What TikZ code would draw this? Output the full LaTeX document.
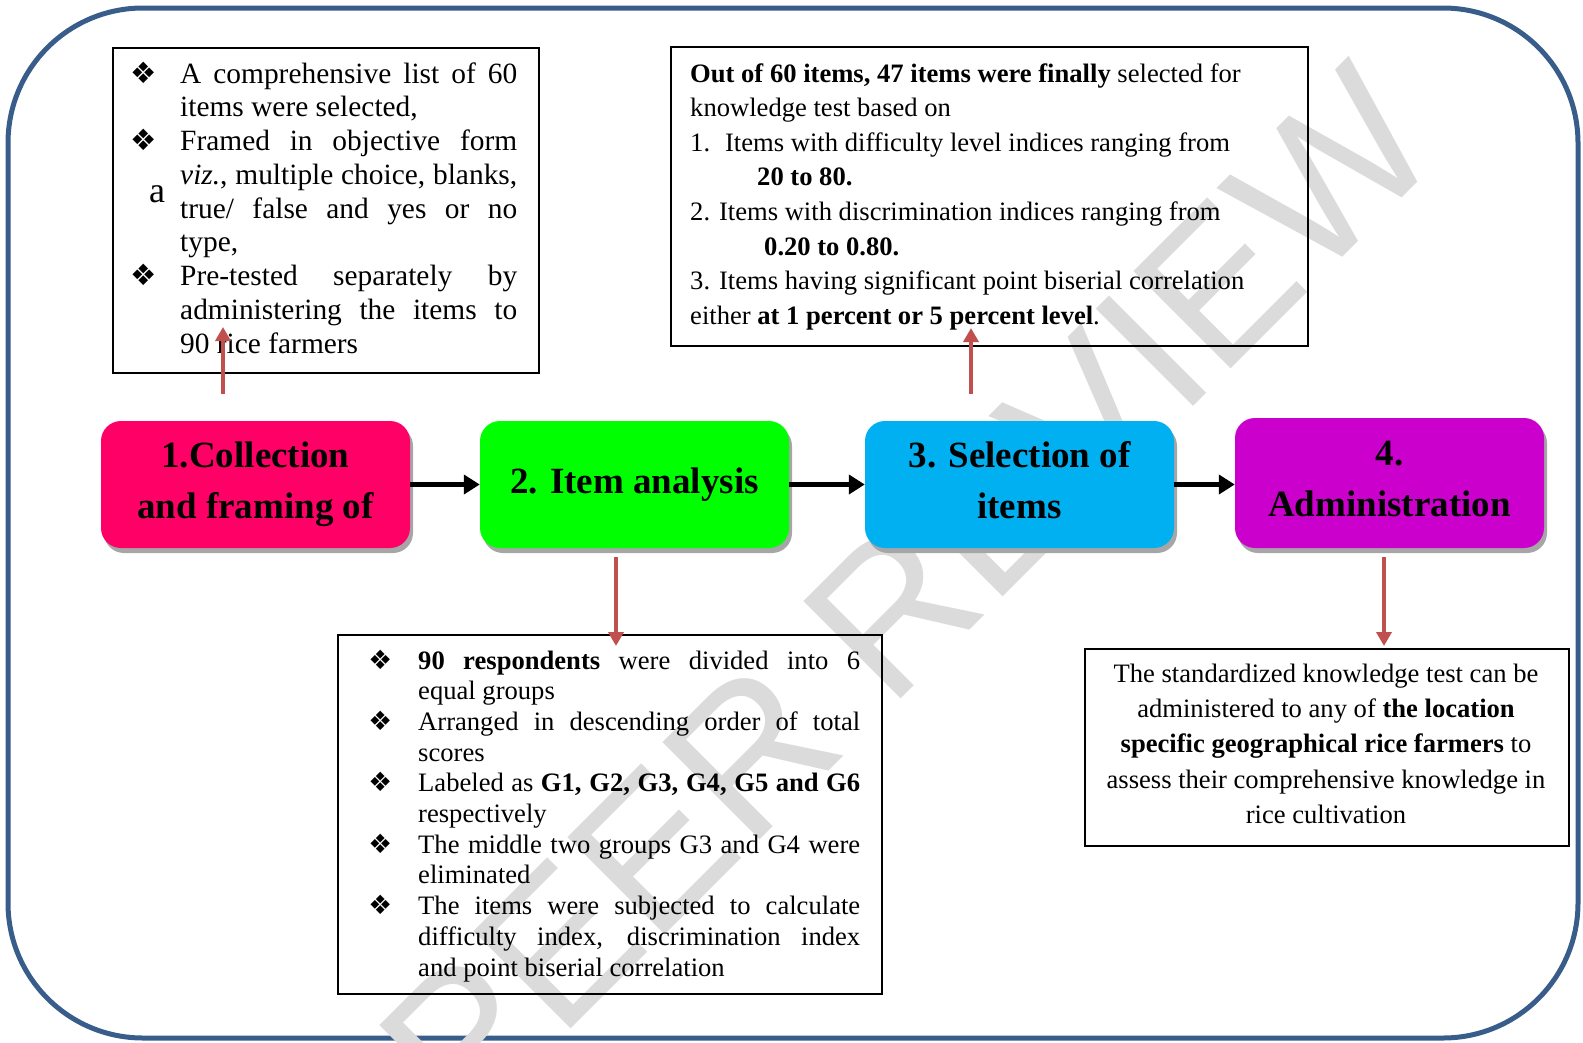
\documentclass[tikz,border=0pt]{standalone}
\usepackage{fontspec}
\setmainfont{Liberation Serif}
\newfontfamily\symfont{DejaVu Sans}
\newfontfamily\markfont{Liberation Sans}
\usetikzlibrary{arrows.meta,shadows,calc}
\definecolor{framecol}{HTML}{385D8A}
\definecolor{redarr}{HTML}{C0504D}
\definecolor{pinkbox}{HTML}{FF0066}
\definecolor{greenbox}{HTML}{00FF00}
\definecolor{cyanbox}{HTML}{00B0F0}
\definecolor{magbox}{HTML}{CC00CC}
\newcommand{\bul}[1][23pt]{\llap{{\symfont ❖}\hspace{#1}}}
\newcommand{\jl}[2][337pt]{\makebox[#1][s]{#2}}

\begin{document}
\begin{tikzpicture}[x=1pt,y=-1pt,
  stage/.style={rounded corners=20pt, minimum width=309pt, minimum height=127pt,
    align=center, inner sep=0pt, font=\bfseries\fontsize{37}{51}\selectfont,
    drop shadow={shadow xshift=3pt, shadow yshift=-5pt, fill=black!35, opacity=1}},
  infobox/.style={draw=black, line width=2pt, anchor=north west, inner sep=0pt},
  infotext/.style={anchor=base west, inner sep=0pt},
  flow/.style={line width=5pt, -{Triangle[length=16pt,width=19pt]}},
  pointer/.style={draw=redarr, line width=4pt, -{Triangle[length=14pt,width=15pt]}}]
\useasboundingbox (0,0) rectangle (1583,1042);
\draw[framecol, line width=5pt, rounded corners=135pt] (8,8) rectangle (1578,1038);
\node[rotate=45, anchor=base east, text=black!14, font=\markfont\fontsize{200}{200}\selectfont] (mark) at (1450,150) {FOR PEER REVIEW};

\node[infobox, minimum width=426pt, minimum height=325pt] (boxA) at (112,47) {};
\node[infobox, minimum width=637pt, minimum height=299pt] (boxB) at (670,46) {};
\node[infobox, minimum width=544pt, minimum height=359pt] (boxC) at (337,634) {};
\node[infobox, minimum width=484pt, minimum height=197pt] (boxD) at (1084,648) {};

\node[infotext, font=\fontsize{29.4}{33.75}\selectfont] (txtA) at (180,83) {\begin{tabular}[t]{@{}l@{}}
\bul\jl{A comprehensive list of 60}\\
items were selected,\\
\bul\jl{Framed in objective form}\\
\jl{\textit{viz.}, multiple choice, blanks,}\\
\jl{true/ false and yes or no}\\
type,\\
\bul\jl{Pre-tested separately by}\\
\jl{administering the items to}\\
90 rice farmers
\end{tabular}};
\node[anchor=base, font=\fontsize{36}{36}\selectfont] (stray) at (157,202) {a};

\node[infotext, font=\fontsize{26.6}{34.6}\selectfont] (txtB) at (690,82) {\begin{tabular}[t]{@{}l@{}}
\textbf{Out of 60 items, 47 items were finally} selected for\\
knowledge test based on\\
1.\hspace{15pt}Items with difficulty level indices ranging from\\
\hspace*{67pt}\textbf{20 to 80.}\\
2. Items with discrimination indices ranging from\\
\hspace*{74pt}\textbf{0.20 to 0.80.}\\
3. Items having significant point biserial correlation\\
either \textbf{at 1 percent or 5 percent level}.
\end{tabular}};

\node[infotext, font=\fontsize{26.6}{30.7}\selectfont] (txtC) at (418,669) {\begin{tabular}[t]{@{}l@{}}
\bul[26pt]\jl[442pt]{\textbf{90 respondents} were divided into 6}\\
equal groups\\
\bul[26pt]\jl[442pt]{Arranged in descending order of total}\\
scores\\
\bul[26pt]\jl[442pt]{Labeled as \textbf{G1, G2, G3, G4, G5 and G6}}\\
respectively\\
\bul[26pt]\jl[442pt]{The middle two groups G3 and G4 were}\\
eliminated\\
\bul[26pt]\jl[442pt]{The items were subjected to calculate}\\
\jl[442pt]{difficulty index, discrimination index}\\
and point biserial correlation
\end{tabular}};

\node[anchor=base, inner sep=0pt, font=\fontsize{26.6}{35.4}\selectfont] (txtD) at (1326,682) {\begin{tabular}[t]{@{}c@{}}
The standardized knowledge test can be\\
administered to any of \textbf{the location}\\
\textbf{specific geographical rice farmers} to\\
assess their comprehensive knowledge in\\
rice cultivation
\end{tabular}};

\node[stage, fill=pinkbox] (c1) at (255.5,484.5) {1.Collection\\and framing of};
\node[stage, fill=greenbox] (c2) at (634.5,484.5) {2. Item analysis};
\node[stage, fill=cyanbox] (c3) at (1019.5,484.5) {3. Selection of\\items\vphantom{g}};
\node[stage, fill=magbox, minimum height=130pt] (c4) at (1389.5,483) {4.\\Administration\vphantom{g}};

\draw[flow] (c1) -- (c2);
\draw[flow] (c2) -- (c3);
\draw[flow] (c3.east) -- (c3.east -| c4.west);

\coordinate (tipA) at (223,327);
\coordinate (tipB) at (971,328);
\coordinate (tipC) at (616,646);
\coordinate (tipD) at (1384,646);
\draw[pointer] ($(c1.north -| tipA)+(0,-27)$) -- (tipA);
\draw[pointer] ($(c3.north -| tipB)+(0,-27)$) -- (tipB);
\draw[pointer] ($(c2.south -| tipC)+(0,9)$) -- (tipC);
\draw[pointer] ($(c4.south -| tipD)+(0,9)$) -- (tipD);
\end{tikzpicture}
\end{document}
